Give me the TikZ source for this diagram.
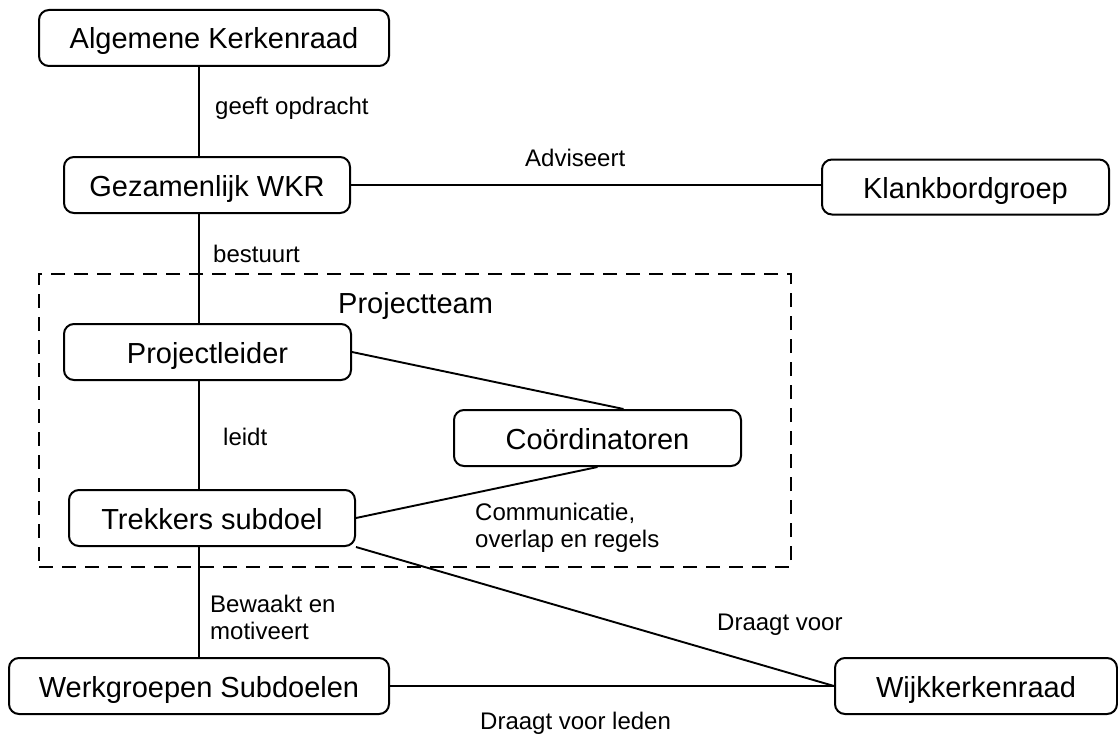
\documentclass[tikz,border=0pt]{standalone}
\usepackage{fontspec}
\setmainfont{Liberation Sans}
\usetikzlibrary{calc}
\begin{document}
\begin{tikzpicture}[x=1pt,y=-1pt,
  box/.style={draw, line width=2pt, rounded corners=10pt, inner sep=0pt,
    minimum height=56pt, text height=22pt, text depth=0pt,
    font=\fontsize{29}{34}\selectfont},
  conn/.style={line width=1.9pt},
  lbl/.style={inner sep=0pt, font=\fontsize{24}{27}\selectfont, align=left},
  teamframe/.style={draw, dash pattern=on 14pt off 9pt, line width=1.8pt,
    inner sep=0pt, minimum width=752pt, minimum height=293pt}]
\useasboundingbox (0,0) rectangle (1118,733);

% group frame
\node[teamframe] (team) at (415,420.5) {};
\node[inner sep=0pt, anchor=base west, font=\fontsize{29}{34}\selectfont] (teamlbl) at (338,313) {Projectteam};

% boxes
\node[box, minimum width=350pt] (ak) at (214,38) {Algemene Kerkenraad};
\node[box, minimum width=286pt] (gw) at (207,185) {Gezamenlijk WKR};
\node[box, minimum width=287pt, minimum height=55pt] (kb) at (965.5,187) {Klankbordgroep};
\node[box, minimum width=287pt] (pl) at (207.5,352) {Projectleider};
\node[box, minimum width=287pt] (co) at (597.5,438) {Coördinatoren};
\node[box, minimum width=286pt] (tr) at (212,518) {Trekkers subdoel};
\node[box, minimum width=380pt] (wg) at (199,686) {Werkgroepen Subdoelen};
\node[box, minimum width=282pt] (wk) at (976,686) {Wijkkerkenraad};

\coordinate (spine) at (199,0);

% connectors
\draw[conn] (ak.south -| spine) -- (gw.north -| spine);
\draw[conn] (gw.south -| spine) -- (pl.north -| spine);
\draw[conn] (pl.south -| spine) -- (tr.north -| spine);
\draw[conn] (tr.south -| spine) -- (wg.north);
\draw[conn] (gw.east) -- (gw.east -| kb.west);
\draw[conn] (pl.east) -- ($(co.north west)!0.59!(co.north east)$);
\draw[conn] (tr.east) -- (co.south);
\draw[conn] (tr.south east) -- (wk.west);
\draw[conn] (wg.east) -- (wk.west);

% labels
\node[lbl, anchor=base west] (l1) at (215,114) {geeft opdracht};
\node[lbl, anchor=base west] (l2) at (525,166) {Adviseert};
\node[lbl, anchor=base west] (l3) at (213,262) {bestuurt};
\node[lbl, anchor=base west] (l4) at (223,445) {leidt};
\node[lbl, anchor=north west] (l5) at (475,503) {Communicatie,\\overlap en regels};
\node[lbl, anchor=north west] (l6) at (210,595) {Bewaakt en\\motiveert};
\node[lbl, anchor=base west] (l7) at (717,630) {Draagt voor};
\node[lbl, anchor=base west] (l8) at (480,729) {Draagt voor leden};
\end{tikzpicture}
\end{document}
